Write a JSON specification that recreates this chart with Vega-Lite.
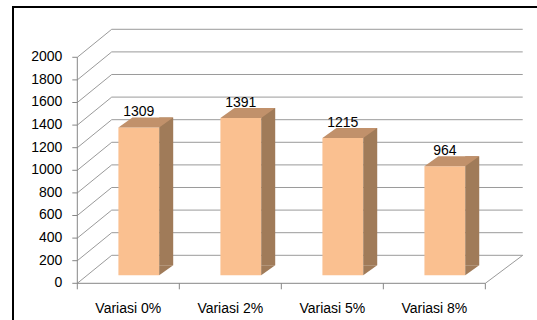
{
  "$schema": "https://vega.github.io/schema/vega-lite/v6.json",
  "width": 528,
  "height": 317,
  "autosize": {"type": "none"},
  "padding": {"left": 13, "top": 7, "right": -4, "bottom": -4},
  "background": "white",
  "config": {
    "view": {"stroke": "#000000", "strokeWidth": 2},
    "font": "Liberation Sans",
    "axis": {
      "labelFont": "Liberation Sans",
      "labelFontSize": 14,
      "labelColor": "#000000",
      "domain": false,
      "grid": false
    },
    "axisX": {
      "offset": -40.7,
      "ticks": false,
      "tickSize": 0,
      "labelPadding": 29,
      "labelBaseline": "alphabetic",
      "labelAlign": "center",
      "labelAngle": 0,
      "labelOverlap": false,
      "labelBound": false
    },
    "axisY": {"disable": true}
  },
  "datasets": {
    "strength": [
      {"variasi": "Variasi 0%", "nilai": 1309},
      {"variasi": "Variasi 2%", "nilai": 1391},
      {"variasi": "Variasi 5%", "nilai": 1215},
      {"variasi": "Variasi 8%", "nilai": 964}
    ],
    "levels": [
      {"level": 0}, {"level": 200}, {"level": 400}, {"level": 600},
      {"level": 800}, {"level": 1000}, {"level": 1200}, {"level": 1400},
      {"level": 1600}, {"level": 1800}, {"level": 2000}
    ],
    "origin": [{}]
  },
  "layer": [
    {
      "description": "back wall gridlines",
      "data": {"name": "levels"},
      "mark": {"type": "rule", "color": "#9a9a9a", "strokeWidth": 1, "xOffset": -16.6, "x2Offset": 88.4, "yOffset": -28},
      "encoding": {
        "x": {
          "datum": "Variasi 0%",
          "type": "nominal",
          "title": null,
          "scale": {
            "domain": ["Variasi 0%", "Variasi 2%", "Variasi 5%", "Variasi 8%"],
            "paddingInner": 0,
            "paddingOuter": 0.588,
            "align": 0.536
          },
          "axis": {"orient": "bottom", "labelAlign": "center", "labelAngle": 0, "title": null}
        },
        "x2": {"datum": "Variasi 8%"},
        "y": {
          "field": "level",
          "type": "quantitative",
          "title": null,
          "scale": {"domain": [-360.2, 2445.1], "nice": false, "zero": false}
        }
      }
    },
    {
      "description": "side wall gridlines running back in depth",
      "data": {"name": "levels"},
      "mark": {"type": "rule", "color": "#9a9a9a", "strokeWidth": 1, "xOffset": -51, "x2Offset": -16.6, "y2Offset": -28},
      "encoding": {
        "x": {"datum": "Variasi 0%", "type": "nominal", "title": null},
        "x2": {"datum": "Variasi 0%"},
        "y": {"field": "level", "type": "quantitative", "title": null},
        "y2": {"field": "level"}
      }
    },
    {
      "description": "floor: right edge",
      "data": {"name": "origin"},
      "mark": {"type": "rule", "color": "#9a9a9a", "strokeWidth": 1, "xOffset": 51, "x2Offset": 88.4, "y2Offset": -28},
      "encoding": {
        "x": {"datum": "Variasi 8%", "type": "nominal", "title": null},
        "x2": {"datum": "Variasi 8%"},
        "y": {"datum": 0, "type": "quantitative", "title": null},
        "y2": {"datum": 0}
      }
    },
    {
      "description": "floor: front edge (category axis line)",
      "data": {"name": "origin"},
      "mark": {"type": "rule", "color": "#868686", "strokeWidth": 1, "xOffset": -51, "x2Offset": 51},
      "encoding": {
        "x": {"datum": "Variasi 0%", "type": "nominal", "title": null},
        "x2": {"datum": "Variasi 8%"},
        "y": {"datum": 0, "type": "quantitative", "title": null}
      }
    },
    {
      "description": "category ticks on band boundaries",
      "data": {"name": "strength"},
      "mark": {"type": "rule", "color": "#868686", "strokeWidth": 1, "xOffset": -51, "y2Offset": 6},
      "encoding": {
        "x": {"field": "variasi", "type": "nominal", "title": null},
        "y": {"datum": 0, "type": "quantitative", "title": null},
        "y2": {"datum": 0}
      }
    },
    {
      "description": "closing tick after the last category",
      "data": {"name": "origin"},
      "mark": {"type": "rule", "color": "#868686", "strokeWidth": 1, "xOffset": 51, "y2Offset": 6},
      "encoding": {
        "x": {"datum": "Variasi 8%", "type": "nominal", "title": null},
        "y": {"datum": 0, "type": "quantitative", "title": null},
        "y2": {"datum": 0}
      }
    },
    {
      "description": "value axis line",
      "data": {"name": "origin"},
      "mark": {"type": "rule", "color": "#868686", "strokeWidth": 1, "xOffset": -51},
      "encoding": {
        "x": {"datum": "Variasi 0%", "type": "nominal", "title": null},
        "y": {"datum": 0, "type": "quantitative", "title": null},
        "y2": {"datum": 2000}
      }
    },
    {
      "description": "value axis ticks",
      "data": {"name": "levels"},
      "mark": {"type": "rule", "color": "#868686", "strokeWidth": 1, "xOffset": -56, "x2Offset": -51},
      "encoding": {
        "x": {"datum": "Variasi 0%", "type": "nominal", "title": null},
        "x2": {"datum": "Variasi 0%"},
        "y": {"field": "level", "type": "quantitative", "title": null}
      }
    },
    {
      "description": "value axis labels",
      "data": {"name": "levels"},
      "mark": {"type": "text", "font": "Liberation Sans", "fontSize": 14, "color": "#000000", "align": "right", "baseline": "middle", "xOffset": -66},
      "encoding": {
        "x": {"datum": "Variasi 0%", "type": "nominal", "title": null},
        "y": {"field": "level", "type": "quantitative", "title": null},
        "text": {"field": "level", "type": "quantitative", "format": "d"}
      }
    },
    {
      "description": "bar front faces",
      "data": {"name": "strength"},
      "mark": {"type": "bar", "color": "#FAC090", "width": {"band": 0.4}, "xOffset": 10.5, "yOffset": -8, "y2Offset": -8},
      "encoding": {
        "x": {"field": "variasi", "type": "nominal", "title": null},
        "y": {"field": "nilai", "type": "quantitative", "title": null},
        "y2": {"datum": 0}
      }
    },
    {
      "description": "bar side faces",
      "data": {"name": "strength"},
      "mark": {"type": "bar", "color": "#A07B59", "width": 14, "xOffset": 37.9, "yOffset": -18, "y2Offset": -18},
      "encoding": {
        "x": {"field": "variasi", "type": "nominal", "title": null},
        "y": {"field": "nilai", "type": "quantitative", "title": null},
        "y2": {"datum": 0}
      }
    },
    {
      "description": "lower corner of each side face",
      "data": {"name": "strength"},
      "mark": {"type": "point", "filled": true, "opacity": 1, "strokeWidth": 0, "size": 4, "color": "#A07B59", "shape": "M0,0 L0,-10 L14,-10 Z", "xOffset": 30.9, "yOffset": -8},
      "encoding": {
        "x": {"field": "variasi", "type": "nominal", "title": null},
        "y": {"datum": 0, "type": "quantitative", "title": null}
      }
    },
    {
      "description": "bar top faces",
      "data": {"name": "strength"},
      "mark": {"type": "point", "filled": true, "opacity": 1, "strokeWidth": 0, "size": 4, "color": "#C1916B", "shape": "M0,0 L40.8,0 L54.8,-10 L14,-10 Z", "xOffset": -9.9, "yOffset": -8},
      "encoding": {
        "x": {"field": "variasi", "type": "nominal", "title": null},
        "y": {"field": "nilai", "type": "quantitative", "title": null}
      }
    },
    {
      "description": "value labels",
      "data": {"name": "strength"},
      "mark": {"type": "text", "font": "Liberation Sans", "fontSize": 14, "color": "#000000", "align": "center", "baseline": "alphabetic", "xOffset": 10.5, "yOffset": -19},
      "encoding": {
        "x": {"field": "variasi", "type": "nominal", "title": null},
        "y": {"field": "nilai", "type": "quantitative", "title": null},
        "text": {"field": "nilai", "type": "quantitative"}
      }
    }
  ]
}
